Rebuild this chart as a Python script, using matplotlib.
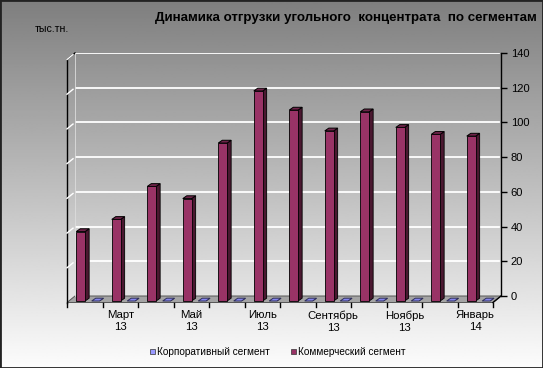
import numpy as np
import matplotlib
matplotlib.use("Agg")
from matplotlib import pyplot as plt
from matplotlib.patches import Polygon, Rectangle
from matplotlib.transforms import ScaledTranslation
from matplotlib.lines import Line2D

plt.rcParams['font.family'] = ['Liberation Sans', 'DejaVu Sans']

# данные
months = ["Февраль\n13", "Март\n13", "Апрель\n13", "Май\n13", "Июнь\n13", "Июль\n13",
          "Август\n13", "Сентябрь\n13", "Октябрь\n13", "Ноябрь\n13", "Декабрь\n13", "Январь\n14"]
commercial = [40, 47, 66, 59, 91, 121, 110, 98, 109, 100, 96, 95]
corporate = [0, 0, 0, 0, 0, 0, 0, 0, 0, 0, 0, 0]
y_ticks = [0, 20, 40, 60, 80, 100, 120, 140]

W, H = 543, 368
fig = plt.figure(figsize=(W / 100, H / 100), dpi=100)


def px(x, y):
    return (x / W, 1 - y / H)


# фон - градиент
bg = fig.add_axes([0, 0, 1, 1], zorder=-10)
grad = np.linspace(0, 1, 256).reshape(-1, 1)
bg.imshow(grad, aspect='auto', cmap='gray', vmin=-1.0, vmax=1.02, extent=[0, 1, 0, 1])
bg.set_xlim(0, 1)
bg.set_ylim(0, 1)
bg.axis('off')

# задняя стенка
L, R, T, B = 75, 501, 53, 296
ax = fig.add_axes([L / W, 1 - B / H, (R - L) / W, (B - T) / H])
ax.set_facecolor('none')
ax.set_xlim(-0.5, len(months) - 0.5)
ax.set_ylim(0, 140)
for s in ['left', 'top', 'bottom']:
    ax.spines[s].set_visible(False)
ax.spines['right'].set_linewidth(1.0)
ax.yaxis.tick_right()
ax.set_yticks(y_ticks)
ax.tick_params(axis='y', direction='out', length=4, width=1, pad=3, labelsize=8)
ax.set_xticks([])
for v in y_ticks[1:]:
    ax.axhline(v, color='white', lw=1.3, zorder=1, xmax=0.995)

# пол и левая стенка
dxp, dyp = 8, 6.5
ax.add_patch(Polygon([px(L, B), px(R, B), px(R - dxp, B + dyp), px(L - dxp, B + dyp)],
                     closed=True, transform=fig.transFigure, facecolor='#a4a4a4',
                     edgecolor='#555555', lw=0.7, zorder=0.5, clip_on=False))
fig.add_artist(Line2D(*zip(px(L - dxp, T + dyp), px(L - dxp, B + dyp)),
                      transform=fig.transFigure, color='black', lw=1.0))
fig.add_artist(Line2D(*zip(px(L - dxp, T + dyp), px(L, T)),
                      transform=fig.transFigure, color='black', lw=1.0))
fig.add_artist(Line2D(*zip(px(L, T), px(L, B)),
                      transform=fig.transFigure, color='#dddddd', lw=0.6))
for v in y_ticks[1:]:
    yy = B - (B - T) * v / 140
    fig.add_artist(Line2D(*zip(px(L - dxp, yy + dyp), px(L - 2, yy + 1.6)),
                          transform=fig.transFigure, color='white', lw=1.0))
fig.add_artist(Line2D(*zip(px(R, B), px(R - dxp, B + dyp)),
                      transform=fig.transFigure, color='black', lw=1.0))
# засечки категорий
slot = (R - L) / len(months)
for k in range(len(months) + 1):
    xx = L - dxp + slot * k
    fig.add_artist(Line2D(*zip(px(xx, B + dyp), px(xx, B + dyp + 4)),
                          transform=fig.transFigure, color='black', lw=1.0))
for k in range(1, len(months), 2):
    xx = L - dxp + slot * (k + 0.5)
    fig.text(*px(xx, 310.5), months[k], ha='center', va='top', fontsize=8.2,
             linespacing=1.25)

# столбцы (псевдо-3D)
front = ax.transData + ScaledTranslation(-6 / 100, -5 / 100, fig.dpi_scale_trans)
x = np.arange(len(months))
ddx = 4.0 / slot
ddy = 2.8 / ((B - T) / 140)


def bars3d(xs, vals, w, fc, sc, tc, ec):
    for xc, v in zip(xs, vals):
        xl, xr = xc - w / 2, xc + w / 2
        side = Polygon([(xr, 0), (xr + ddx, ddy), (xr + ddx, v + ddy), (xr, v)],
                       closed=True, facecolor=sc, edgecolor=ec, lw=0.6,
                       transform=front, clip_on=False, zorder=3)
        top = Polygon([(xl, v), (xr, v), (xr + ddx, v + ddy), (xl + ddx, v + ddy)],
                      closed=True, facecolor=tc, edgecolor=ec, lw=0.7,
                      transform=front, clip_on=False, zorder=3)
        ax.add_patch(side)
        ax.add_patch(top)
        if v > 0:
            ax.add_patch(Rectangle((xl, 0), w, v, facecolor=fc, edgecolor=ec, lw=0.6,
                                   transform=front, clip_on=False, zorder=4))


bars3d(x - 0.17, commercial, 0.25, '#993366', '#4a1830', '#6e2349', 'black')
bars3d(x + 0.25, corporate, 0.22, '#9999ff', '#5555aa', '#8585f0', '#30305a')

# подписи
fig.text(*px(537, 18), "Динамика отгрузки угольного  концентрата  по сегментам",
         ha='right', va='center', fontsize=9.6, fontweight='bold')
fig.text(*px(35, 29), "тыс.тн.", ha='left', va='center', fontsize=7.6)

handles = [Rectangle((0, 0), 1, 1, facecolor='#9999ff', edgecolor='#333333', lw=0.5),
           Rectangle((0, 0), 1, 1, facecolor='#993366', edgecolor='#333333', lw=0.5)]
fig.legend(handles, ["Корпоративный сегмент", "Коммерческий сегмент"],
           loc='center', bbox_to_anchor=px(278, 352), ncol=2, frameon=False,
           fontsize=7.2, handlelength=0.5, handleheight=0.5, handletextpad=0.2,
           columnspacing=2.1)

# рамка
fig.add_artist(Rectangle((0, 0), 1, 1, transform=fig.transFigure, fill=False,
                         edgecolor='#222222', lw=2.0))

plt.savefig('out.png', dpi=100)
plt.close(fig)
